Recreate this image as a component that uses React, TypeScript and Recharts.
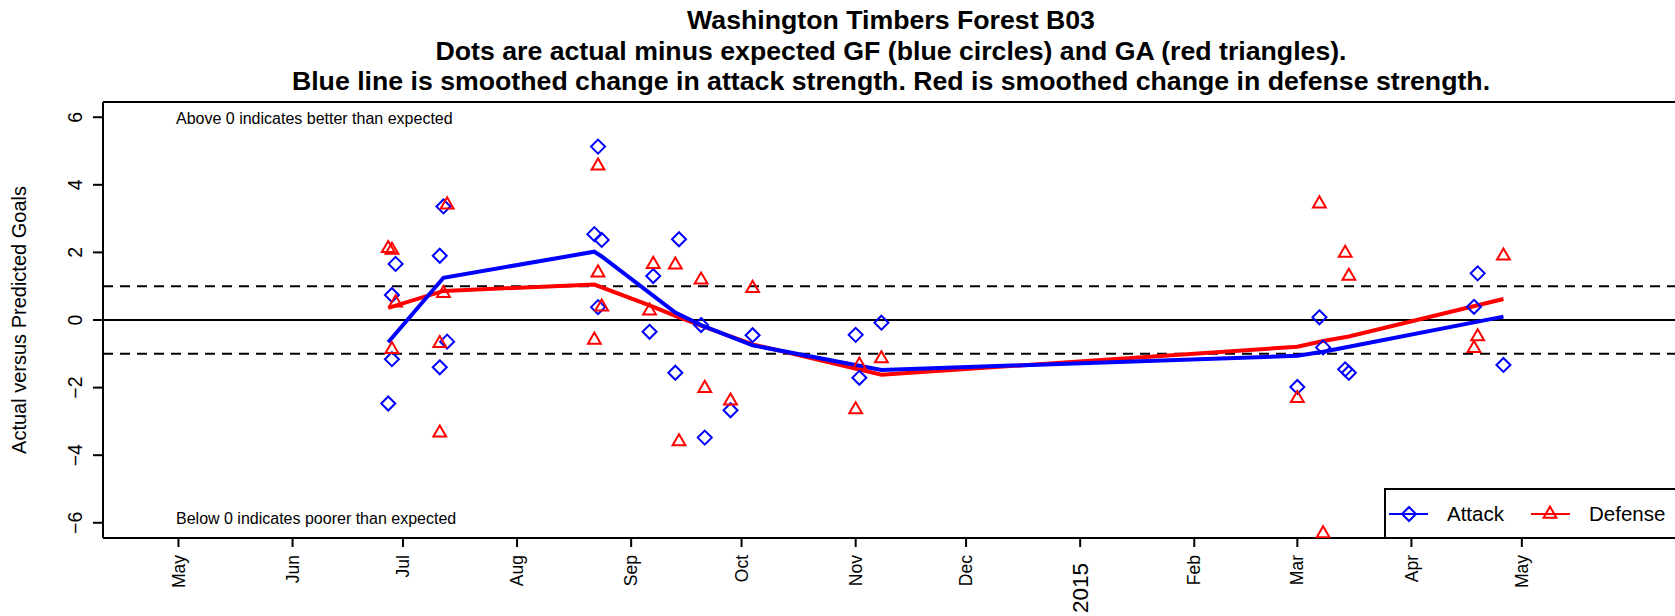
import {
  ComposedChart,
  Legend,
  Line,
  ReferenceLine,
  Scatter,
  XAxis,
  YAxis,
} from "recharts";

// days counted from 1 May 2014
const monthTicks = [0, 31, 61, 92, 123, 153, 184, 214, 245, 276, 304, 335, 365];
const monthLabels = ["May", "Jun", "Jul", "Aug", "Sep", "Oct", "Nov", "Dec", "2015", "Feb", "Mar", "Apr", "May"];
const yTicks = [-6, -4, -2, 0, 2, 4, 6];

const gameDays = [57, 58, 58, 59, 71, 71, 72, 73, 113, 114, 114, 115, 128, 129, 135, 136, 142, 143, 150, 156, 184, 185, 191, 304, 310, 311, 317, 318, 352, 353, 360];
const attackDiff = [-2.47, 0.74, -1.16, 1.66, 1.9, -1.4, 3.36, -0.64, 2.54, 5.13, 0.38, 2.37, -0.35, 1.3, -1.56, 2.39, -0.15, -3.48, -2.67, -0.45, -0.44, -1.71, -0.08, -1.98, 0.08, -0.81, -1.46, -1.56, 0.39, 1.38, -1.33];
const defenseDiff = [2.12, 2.07, -0.87, 0.51, -0.69, -3.34, 0.79, 3.41, -0.59, 4.56, 1.4, 0.39, 0.27, 1.65, 1.63, -3.6, 1.19, -2.02, -2.39, 0.94, -2.65, -1.33, -1.14, -2.32, 3.44, -6.32, 1.98, 1.3, -0.84, -0.49, 1.9];

const attackSmoothDays = [57, 72, 113, 115, 135, 142, 156, 191, 304, 311, 318, 360];
const attackSmooth = [-0.66, 1.25, 2.02, 1.88, 0.22, -0.15, -0.75, -1.48, -1.06, -0.94, -0.79, 0.1];
const defenseSmoothDays = [57, 72, 113, 128, 135, 142, 156, 191, 304, 311, 318, 360];
const defenseSmooth = [0.36, 0.86, 1.05, 0.43, 0.12, -0.17, -0.72, -1.62, -0.79, -0.62, -0.49, 0.62];

const FONT = '"Liberation Sans", Arial, Helvetica, sans-serif';
const BLUE = "#0000ff";
const RED = "#ff0000";

const attackPts = gameDays.map((day, i) => ({ day, v: attackDiff[i] }));
const defensePts = gameDays.map((day, i) => ({ day, v: defenseDiff[i] }));
const attackLine = attackSmoothDays.map((day, i) => ({ day, v: attackSmooth[i] }));
const defenseLine = defenseSmoothDays.map((day, i) => ({ day, v: defenseSmooth[i] }));

function Diamond({ cx, cy }: any) {
  if (cx == null || cy == null) return null;
  const r = 7;
  return (
    <polygon
      points={`${cx},${cy - r} ${cx + r},${cy} ${cx},${cy + r} ${cx - r},${cy}`}
      fill="none"
      stroke={BLUE}
      strokeWidth={2}
    />
  );
}

function Triangle({ cx, cy }: any) {
  if (cx == null || cy == null) return null;
  const r = 7.4;
  const h = r * 0.866;
  return (
    <polygon
      points={`${cx},${cy - r} ${cx + h},${cy + r / 2} ${cx - h},${cy + r / 2}`}
      fill="none"
      stroke={RED}
      strokeWidth={2}
    />
  );
}

function MonthTick({ x, y, payload }: any) {
  const label = monthLabels[monthTicks.indexOf(payload.value)];
  const big = label === "2015";
  return (
    <text
      transform={`translate(${x},${y + (big ? 8 : 0)}) rotate(-90)`}
      textAnchor="end"
      dy="0.35em"
      fontSize={big ? 22.5 : 17.5}
      fontFamily={FONT}
      fill="#000"
    >
      {label}
    </text>
  );
}

function ValueTick({ x, y, payload }: any) {
  const v = payload.value as number;
  const s = v < 0 ? "\u2212" + Math.abs(v) : String(v);
  return (
    <text transform={`translate(${x},${y}) rotate(-90)`} textAnchor="middle" fontSize={19.5} fontFamily={FONT} fill="#000">
      {s}
    </text>
  );
}

function LegendBox() {
  return (
    <div style={{ width: 310, height: 51, border: "2px solid #000", boxSizing: "border-box", background: "#fff" }}>
      <svg width={310} height={51} style={{ position: "absolute", left: 0, top: 0 }}>
        <line x1={5} x2={44} y1={26} y2={26} stroke={BLUE} strokeWidth={2} />
        <Diamond cx={25} cy={26} />
        <text x={63} y={33} fontSize={20.5} fontFamily={FONT}>Attack</text>
        <line x1={147} x2={186} y1={26} y2={26} stroke={RED} strokeWidth={2} />
        <Triangle cx={166} cy={26} />
        <text x={205} y={33} fontSize={20.5} fontFamily={FONT}>Defense</text>
      </svg>
    </div>
  );
}

const titleLines = [
  "Washington Timbers Forest B03",
  "Dots are actual minus expected GF (blue circles) and GA (red triangles).",
  "Blue line is smoothed change in attack strength. Red is smoothed change in defense strength.",
];
const titleCenters = [20, 51, 81];

export default function App() {
  return (
    <div
      style={{
        position: "absolute",
        left: 0,
        top: 0,
        width: 1675,
        height: 616,
        overflow: "hidden",
        background: "#fff",
        fontFamily: FONT,
      }}
    >
      <ComposedChart width={1700} height={616} margin={{ top: 102, right: 21, bottom: 0, left: 0 }}>
        <XAxis
          type="number"
          dataKey="day"
          domain={[-20.5, 407.7]}
          allowDataOverflow
          ticks={monthTicks}
          interval={0}
          height={78}
          tickSize={9}
          tickMargin={8}
          tick={<MonthTick />}
          axisLine={{ stroke: "#000", strokeWidth: 2 }}
          tickLine={{ stroke: "#000", strokeWidth: 2 }}
        />
        <YAxis
          type="number"
          dataKey="v"
          domain={[-6.45, 6.45]}
          allowDataOverflow
          ticks={yTicks}
          interval={0}
          width={103}
          tickSize={10}
          tickMargin={11}
          tick={<ValueTick />}
          axisLine={{ stroke: "#000", strokeWidth: 2 }}
          tickLine={{ stroke: "#000", strokeWidth: 2 }}
          label={({ viewBox }: any) => (
            <text
              transform={`translate(${viewBox.x + 26},${viewBox.y + viewBox.height / 2}) rotate(-90)`}
              textAnchor="middle"
              fontSize={20}
              fontFamily={FONT}
              fill="#000"
            >
              Actual versus Predicted Goals
            </text>
          )}
        />
        <ReferenceLine y={6.45} stroke="#000" strokeWidth={2} />
        <ReferenceLine y={0} stroke="#000" strokeWidth={2} />
        <ReferenceLine y={1} stroke="#000" strokeWidth={2} strokeDasharray="10 7" />
        <ReferenceLine y={-1} stroke="#000" strokeWidth={2} strokeDasharray="10 7" />
        <Scatter name="Attack" data={attackPts} dataKey="v" shape={<Diamond />} isAnimationActive={false} />
        <Scatter name="Defense" data={defensePts} dataKey="v" shape={<Triangle />} isAnimationActive={false} />
        <Line
          data={defenseLine}
          dataKey="v"
          type="linear"
          stroke={RED}
          strokeWidth={4}
          dot={false}
          activeDot={false}
          isAnimationActive={false}
          legendType="none"
        />
        <Line
          data={attackLine}
          dataKey="v"
          type="linear"
          stroke={BLUE}
          strokeWidth={4}
          dot={false}
          activeDot={false}
          isAnimationActive={false}
          legendType="none"
        />
        <Legend
          layout="horizontal"
          verticalAlign="middle"
          align="center"
          wrapperStyle={{ left: 1384, top: 488, width: 310, height: 51 }}
          content={() => <LegendBox />}
        />
      </ComposedChart>

      {titleLines.map((t, i) => (
        <div
          key={i}
          style={{
            position: "absolute",
            left: 0,
            width: 1782,
            top: titleCenters[i] - 14,
            height: 28,
            lineHeight: "28px",
            textAlign: "center",
            fontWeight: "bold",
            fontSize: 26.7,
            whiteSpace: "nowrap",
          }}
        >
          {t}
        </div>
      ))}
      <div style={{ position: "absolute", left: 176, top: 110, fontSize: 16, lineHeight: "17px", whiteSpace: "nowrap" }}>
        Above 0 indicates better than expected
      </div>
      <div style={{ position: "absolute", left: 176, top: 510, fontSize: 16, lineHeight: "17px", whiteSpace: "nowrap" }}>
        Below 0 indicates poorer than expected
      </div>
    </div>
  );
}
